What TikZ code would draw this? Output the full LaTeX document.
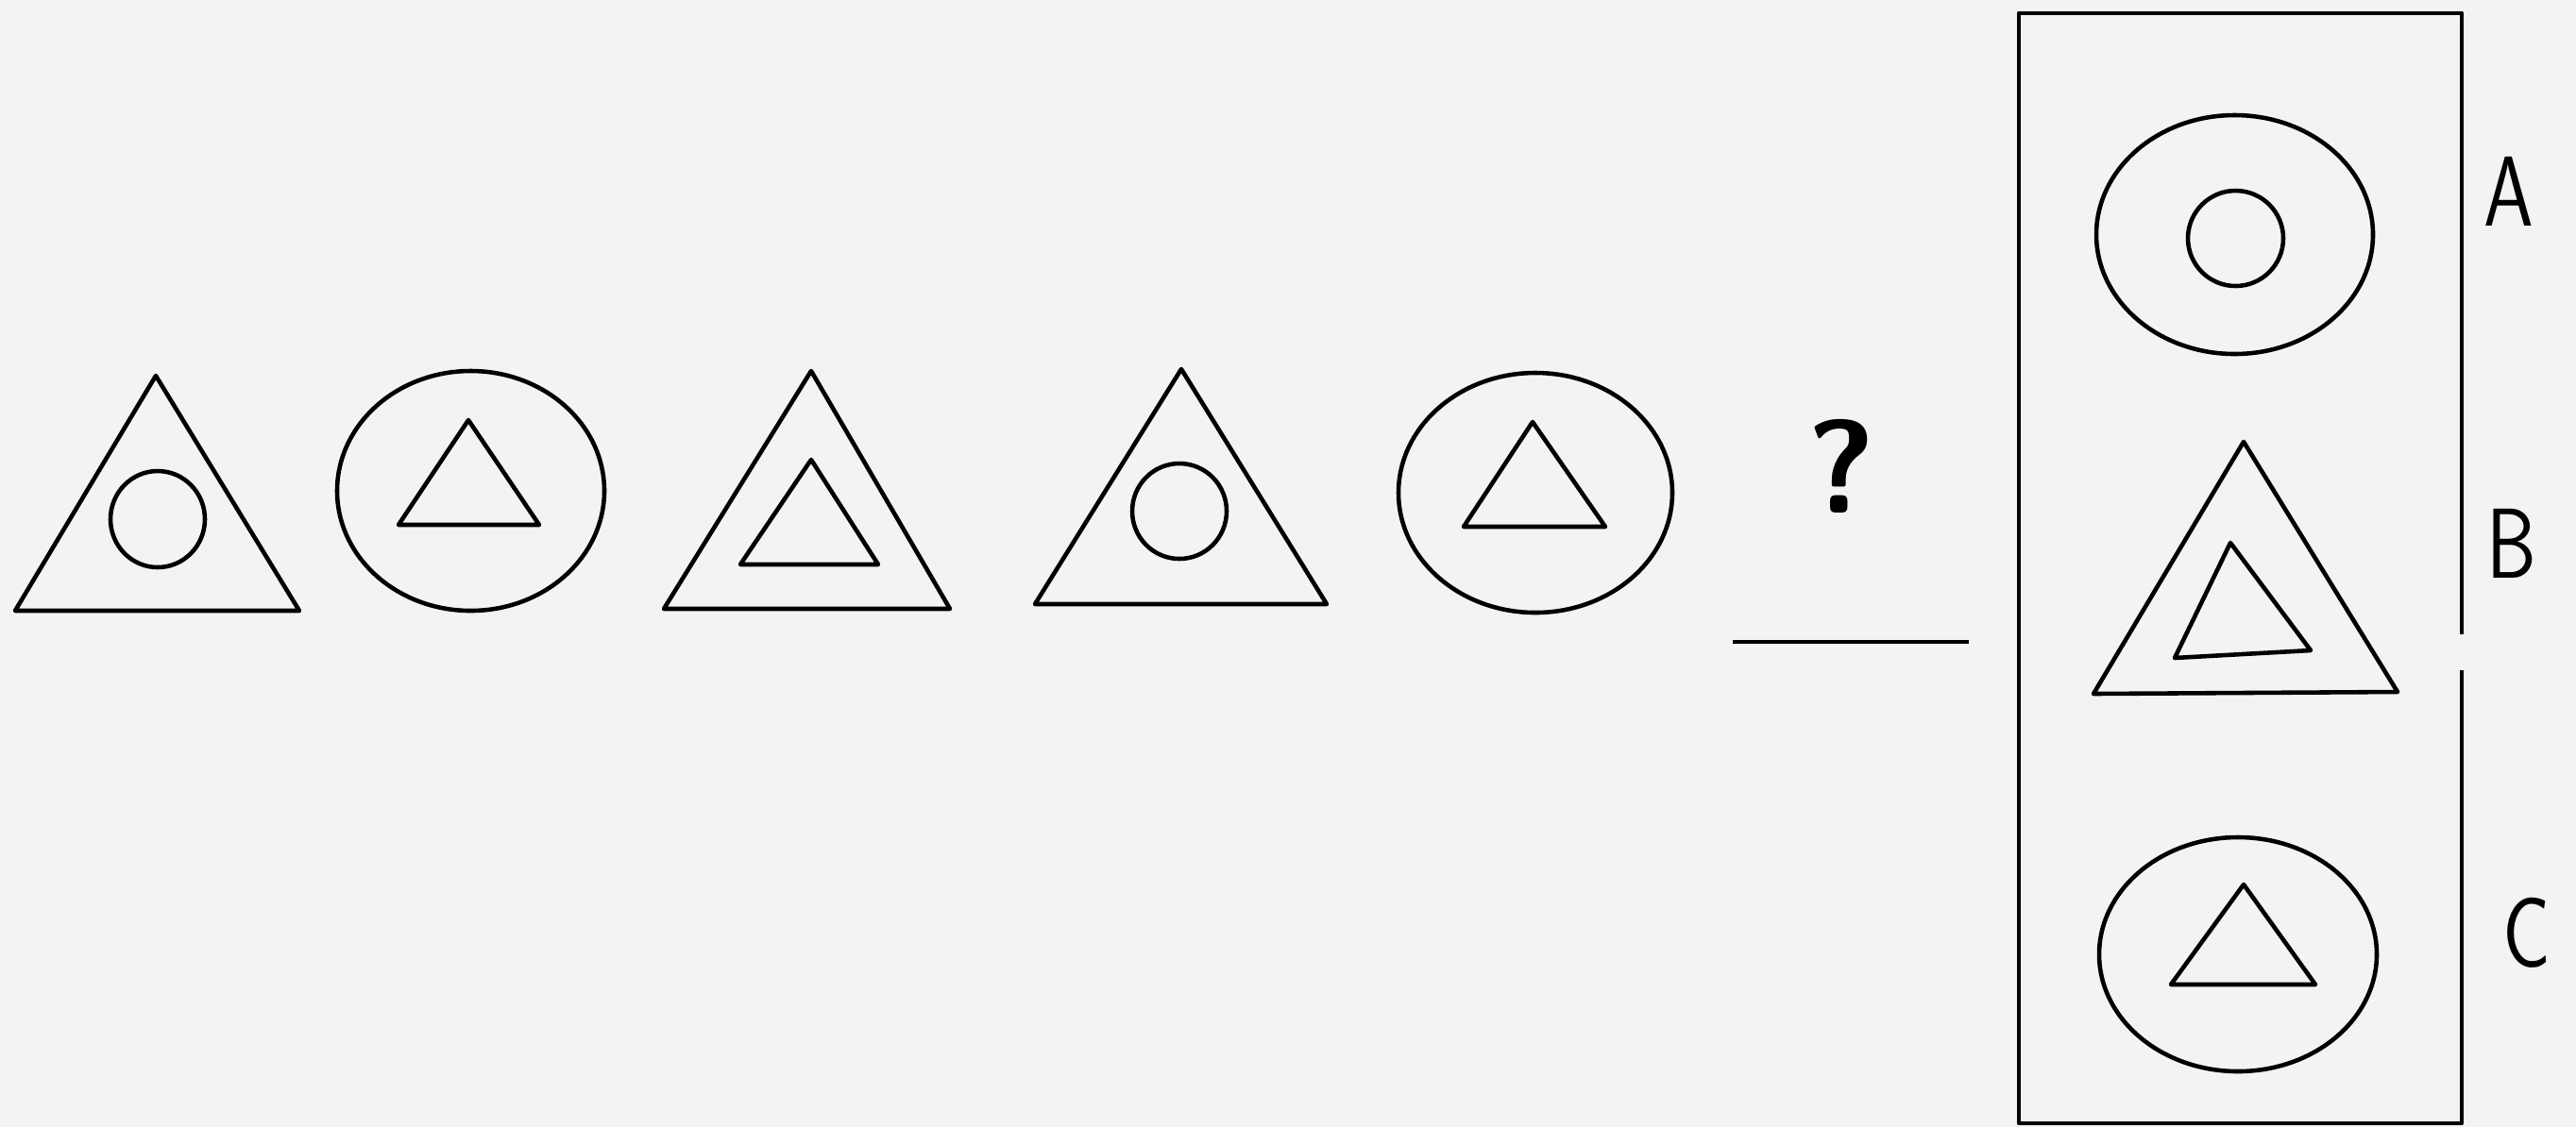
\documentclass[tikz,border=0pt]{standalone}
\usepackage{tikz}
\usetikzlibrary{positioning}
\definecolor{paper}{RGB}{243,243,243}

\begin{document}
\begin{tikzpicture}[line width=1.3pt, line join=round,
  lbl/.style={font=\fontsize{30}{32}\selectfont\sffamily, inner sep=0pt, xscale=0.8},
  ask/.style={font=\fontsize{40}{44}\selectfont\sffamily\bfseries, inner sep=0pt}]
  \fill[paper] (0,0) rectangle (27.28,-11.94);
  \useasboundingbox (0,0) rectangle (27.28,-11.94);
  % the row
  \draw (1.65,-3.98) -- (0.16,-6.47) -- (3.17,-6.47) -- cycle;
  \draw (1.67,-5.50) ellipse (0.50 and 0.51);
  \draw (4.985,-5.20) ellipse (1.415 and 1.27);
  \draw (4.96,-4.45) -- (4.22,-5.56) -- (5.71,-5.56) -- cycle;
  \draw (8.59,-3.93) -- (7.03,-6.45) -- (10.06,-6.45) -- cycle;
  \draw (8.59,-4.87) -- (7.84,-5.98) -- (9.30,-5.98) -- cycle;
  \draw (12.51,-3.91) -- (10.96,-6.40) -- (14.05,-6.40) -- cycle;
  \draw (12.49,-5.415) ellipse (0.50 and 0.505);
  \draw (16.26,-5.22) ellipse (1.45 and 1.27);
  \draw (16.23,-4.47) -- (15.50,-5.58) -- (17.00,-5.58) -- cycle;
  % the gap
  \node[ask] (q) at (19.50,-4.94) {?};
  \coordinate (gapl) at (18.35,-6.80);
  \coordinate (gapr) at (20.85,-6.80);
  \draw (gapl) -- (gapr);
  % the choices
  \draw (26.07,-7.10) -- (26.07,-11.90) -- (21.38,-11.90) -- (21.38,-0.14)
        -- (26.07,-0.14) -- (26.07,-6.72);
  \draw (23.665,-2.485) ellipse (1.465 and 1.265);
  \draw (23.675,-2.525) ellipse (0.505 and 0.505);
  \draw (23.76,-4.68) -- (22.17,-7.35) -- (25.39,-7.33) -- cycle;
  \draw (23.62,-5.75) -- (23.03,-6.97) -- (24.47,-6.89) -- cycle;
  \draw (23.70,-10.11) ellipse (1.47 and 1.24);
  \draw (23.76,-9.37) -- (22.99,-10.43) -- (24.52,-10.43) -- cycle;
  \node[lbl] (la) at (26.57,-2.03) {A};
  \node[lbl] (lb) at (26.60,-5.76) {B};
  \node[lbl] (lc) at (26.76,-9.88) {C};
\end{tikzpicture}
\end{document}
